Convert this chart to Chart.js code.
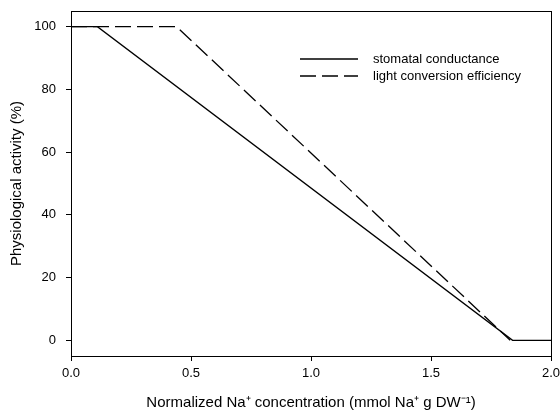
<!DOCTYPE html>
<html>
<head>
<meta charset="utf-8">
<script src="https://cdn.jsdelivr.net/npm/chart.js@4/dist/chart.umd.min.js"></script>
<style>
  body { margin: 0; background: #fff; }
</style>
</head>
<body>
<canvas id="chart" width="560" height="416"></canvas>
<script>
// values
const stomatalX = [0, 0.11, 1.84, 2.0];
const stomatalY = [100, 100, 0, 0];
const lightX = [0, 0.44, 1.83];
const lightY = [100, 100, 0];
const xTicks = [0, 0.5, 1.0, 1.5, 2.0];
const yTicks = [0, 20, 40, 60, 80, 100];
const seriesLabels = ["stomatal conductance", "light conversion efficiency"];

const font = "'Liberation Sans', Arial, sans-serif";

function toPoints(xs, ys) {
  return xs.map((x, i) => ({ x, y: ys[i] }));
}

// box around the plot area
const frame = {
  id: "frame",
  afterDraw(chart) {
    const { ctx, chartArea: a } = chart;
    ctx.save();
    ctx.strokeStyle = "#000";
    ctx.lineWidth = 1;
    ctx.strokeRect(a.left + 0.5, a.top + 0.5, a.right - a.left, a.bottom - a.top);
    ctx.restore();
  },
};

// legend inside the plot, top right
const insideLegend = {
  id: "insideLegend",
  afterDraw(chart) {
    const { ctx } = chart;
    ctx.save();
    ctx.font = "13px " + font;
    ctx.textBaseline = "middle";
    chart.data.datasets.forEach((ds, i) => {
      const y = 59 + i * 17;
      ctx.strokeStyle = "#000";
      ctx.lineWidth = 1.3;
      ctx.setLineDash(ds.borderDash || []);
      ctx.beginPath();
      ctx.moveTo(300, y);
      ctx.lineTo(358, y);
      ctx.stroke();
      ctx.setLineDash([]);
      ctx.fillStyle = "#000";
      ctx.fillText(ds.label, 373, y);
    });
    ctx.restore();
  },
};

new Chart(document.getElementById("chart"), {
  type: "line",
  data: {
    datasets: [
      {
        label: seriesLabels[0],
        data: toPoints(stomatalX, stomatalY),
        borderColor: "#000",
        borderWidth: 1.3,
        pointRadius: 0,
        tension: 0,
      },
      {
        label: seriesLabels[1],
        data: toPoints(lightX, lightY),
        borderColor: "#000",
        borderWidth: 1.3,
        borderDash: [16, 6],
        pointRadius: 0,
        tension: 0,
      },
    ],
  },
  options: {
    responsive: false,
    animation: false,
    layout: { padding: { top: 11, right: 9, left: 0, bottom: 0 } },
    plugins: {
      legend: { display: false },
      tooltip: { enabled: false },
    },
    scales: {
      x: {
        type: "linear",
        min: 0,
        max: 2,
        afterBuildTicks: (scale) => {
          scale.ticks = xTicks.map((value) => ({ value }));
        },
        afterFit: (scale) => {
          scale.height = 60;
          scale.paddingLeft = 0;
          scale.paddingRight = 0;
        },
        grid: { drawOnChartArea: false, color: "#000", tickLength: 5 },
        border: { color: "#000" },
        ticks: {
          color: "#000",
          font: { family: font, size: 13 },
          padding: 5,
          maxRotation: 0,
          callback: (v) => Number(v).toFixed(1),
        },
        title: {
          display: true,
          text: "Normalized Na⁺ concentration (mmol Na⁺ g DW⁻¹)",
          color: "#000",
          font: { family: font, size: 15 },
          padding: { top: 13 },
        },
      },
      y: {
        min: -5,
        max: 105,
        afterBuildTicks: (scale) => {
          scale.ticks = yTicks.map((value) => ({ value }));
        },
        afterFit: (scale) => {
          scale.width = 71;
          scale.paddingTop = 0;
          scale.paddingBottom = 0;
        },
        grid: { drawOnChartArea: false, color: "#000", tickLength: 5 },
        border: { color: "#000" },
        ticks: {
          color: "#000",
          font: { family: font, size: 13 },
          padding: 10,
        },
        title: {
          display: true,
          text: "Physiological activity (%)",
          color: "#000",
          font: { family: font, size: 15 },
          padding: { top: 8, bottom: 4 },
        },
      },
    },
  },
  plugins: [frame, insideLegend],
});
</script>
</body>
</html>
